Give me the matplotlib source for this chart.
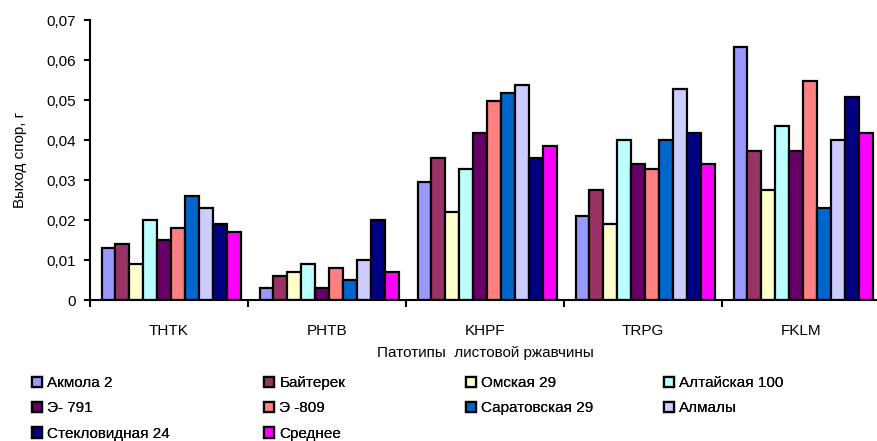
import numpy as np
import matplotlib
matplotlib.use("Agg")
import matplotlib.pyplot as plt

plt.rcParams["font.family"] = ["Liberation Sans", "DejaVu Sans"]

pathotypes = ["THTK", "PHTB", "KHPF", "TRPG", "FKLM"]
varieties = ["Акмола 2", "Байтерек", "Омская 29", "Алтайская 100", "Э- 791",
             "Э -809", "Саратовская 29", "Алмалы", "Стекловидная 24", "Среднее"]
colors = ["#9999FF", "#993366", "#FFFFCC", "#BBFFFF", "#660066",
          "#FF8080", "#0066CC", "#CCCCFF", "#000080", "#FF00FF"]

# spore yield, g (rows = varieties, columns = pathotypes)
akmola = [0.013, 0.003, 0.0295, 0.021, 0.0633]
baiterek = [0.014, 0.006, 0.0355, 0.0275, 0.0373]
omsk = [0.009, 0.007, 0.022, 0.019, 0.0275]
altai = [0.020, 0.009, 0.0328, 0.040, 0.0435]
e791 = [0.015, 0.003, 0.0418, 0.034, 0.0373]
e809 = [0.018, 0.008, 0.0498, 0.0328, 0.0548]
saratov = [0.026, 0.005, 0.0518, 0.040, 0.023]
almaly = [0.023, 0.010, 0.0538, 0.0528, 0.040]
steklo = [0.019, 0.020, 0.0355, 0.0418, 0.0508]
mean = [0.017, 0.007, 0.0385, 0.034, 0.0418]
series = [akmola, baiterek, omsk, altai, e791, e809, saratov, almaly, steklo, mean]

fig = plt.figure(figsize=(8.77, 4.41), dpi=100)
ax = fig.add_axes([90 / 877, 1 - 300 / 441, 790 / 877, 280 / 441])

x = np.arange(len(pathotypes))
w = 0.088
handles = []
for i, (vals, name, c) in enumerate(zip(series, varieties, colors)):
    h = ax.bar(x - 4.35 * w + i * w, vals, width=w, color=c,
               edgecolor="black", linewidth=1.6, label=name)
    handles.append(h)

ax.set_xlim(-0.5, len(pathotypes) - 0.5)
ax.set_ylim(0, 0.07)
ax.set_yticks(np.arange(0, 0.071, 0.01))
ax.set_yticklabels(["0"] + [f"0,{k:02d}" for k in range(1, 8)], fontsize=11)
ax.set_xticks(x)
ax.set_xticklabels(pathotypes, fontsize=11)
ax.set_xticks(np.arange(-0.5, len(pathotypes)), minor=True)
ax.tick_params(axis="x", which="major", length=0, pad=17)
ax.tick_params(axis="x", which="minor", length=5, width=1.5, direction="out")
ax.tick_params(axis="y", length=4, width=1.5, direction="out", pad=6)

for s in ["top", "right"]:
    ax.spines[s].set_visible(False)
for s in ["left", "bottom"]:
    ax.spines[s].set_linewidth(1.5)

ax.set_ylabel("Выход спор, г", fontsize=11, labelpad=14)
ax.set_xlabel("Патотипы  листовой ржавчины", fontsize=11, labelpad=6)

# legend laid out as four columns, like the original
columns = [[0, 4, 8], [1, 5, 9], [2, 6], [3, 7]]
col_x = [32, 264, 466, 664]
for cols, cx in zip(columns, col_x):
    leg = fig.legend([handles[i] for i in cols], [varieties[i] for i in cols],
                     loc="upper left", bbox_to_anchor=(cx / 877, 1 - 376 / 441),
                     frameon=False, fontsize=11, handlelength=0.65,
                     handleheight=0.65, handletextpad=0.35, labelspacing=0.75,
                     borderaxespad=0, borderpad=0)
    fig.add_artist(leg)

fig.savefig("out.png", dpi=100)
